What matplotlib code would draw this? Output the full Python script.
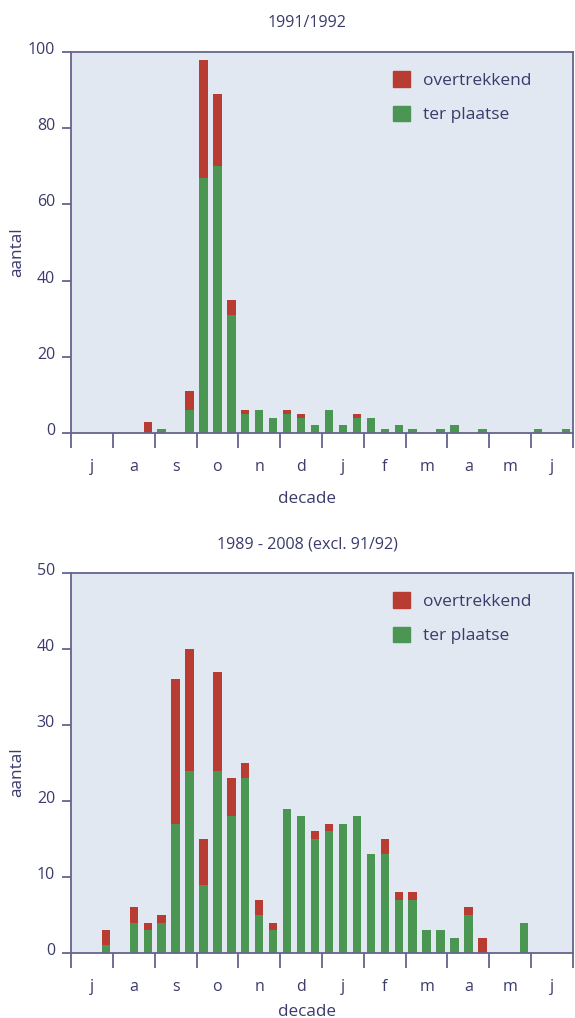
import numpy as np
import matplotlib
matplotlib.use('Agg')
import matplotlib.pyplot as plt
import matplotlib.transforms as mtransforms
from matplotlib.patches import Patch

plt.rcParams['font.family'] = ['Open Sans', 'DejaVu Sans']

# decades from july to june, 3 per month
months = ['j', 'a', 's', 'o', 'n', 'd', 'j', 'f', 'm', 'a', 'm', 'j']

# 1991/1992
top_ter_plaatse = [0, 0, 0, 0, 0, 0, 1, 0, 6, 67, 70, 31, 5, 6, 4, 5, 4, 2,
                   6, 2, 4, 4, 1, 2, 1, 0, 1, 2, 0, 1, 0, 0, 0, 1, 0, 1]
top_overtrekkend = [0, 0, 0, 0, 0, 3, 0, 0, 5, 31, 19, 4, 1, 0, 0, 1, 1, 0,
                    0, 0, 1, 0, 0, 0, 0, 0, 0, 0, 0, 0, 0, 0, 0, 0, 0, 0]

# 1989 - 2008 (excl. 91/92)
bot_ter_plaatse = [0, 0, 1, 0, 4, 3, 4, 17, 24, 9, 24, 18, 23, 5, 3, 19, 18, 15,
                   16, 17, 18, 13, 13, 7, 7, 3, 3, 2, 5, 0, 0, 0, 4, 0, 0, 0]
bot_overtrekkend = [0, 0, 2, 0, 2, 1, 1, 19, 16, 6, 13, 5, 2, 2, 1, 0, 0, 1,
                    1, 0, 0, 0, 2, 1, 1, 0, 0, 0, 1, 2, 0, 0, 0, 0, 0, 0]

RED = '#b83c32'
GREEN = '#4b9652'
BG = '#e1e8f2'
AXC = '#65658f'
TXT = '#3b3b6b'


def draw_panel(ax, ter, over, ymax, step, title, xlab_y):
    x = np.arange(len(ter)) + 0.5
    ax.set_facecolor(BG)
    ax.bar(x, ter, width=0.6, color=GREEN, linewidth=0)
    ax.bar(x, over, width=0.6, bottom=ter, color=RED, linewidth=0)
    ax.set_xlim(0, 36)
    ax.set_ylim(0, ymax)
    for s in ax.spines.values():
        s.set_color(AXC)
        s.set_linewidth(1.3)

    ax.set_xticks(np.arange(0, 37, 3))
    ax.set_xticklabels([])
    ax.set_xticks(np.arange(1.5, 36, 3), minor=True)
    ax.set_xticklabels(months, minor=True)
    ax.tick_params(axis='x', which='major', length=11, width=1.3, color=AXC)
    ax.tick_params(axis='x', which='minor', length=0, pad=19, labelsize=11.5, labelcolor=TXT)

    ax.set_yticks(np.arange(0, ymax + 1, step))
    ax.tick_params(axis='y', length=6.5, width=1.3, color=AXC, pad=5, labelsize=11.5, labelcolor=TXT)
    off = mtransforms.ScaledTranslation(0, 4 / 100, ax.figure.dpi_scale_trans)
    for lab in ax.get_yticklabels():
        lab.set_transform(lab.get_transform() + off)

    ax.set_xlabel('decade', fontsize=12.3, color=TXT, va='center')
    ax.xaxis.set_label_coords(0.47, xlab_y)
    ax.set_ylabel('aantal', fontsize=12.3, color=TXT, va='center')
    ax.yaxis.set_label_coords(-0.108, 0.475)

    handles = [Patch(color=RED, label='overtrekkend'), Patch(color=GREEN, label='ter plaatse')]
    leg = ax.legend(handles=handles, loc='upper left', bbox_to_anchor=(0.611, 0.99),
                    frameon=False, handlelength=0.98, handleheight=0.98,
                    labelspacing=0.95, handletextpad=0.7, fontsize=12.5)
    for t in leg.get_texts():
        t.set_color(TXT)
    ax.text(0.47, 1.075, title, transform=ax.transAxes, ha='center', va='center',
            fontsize=11.6, color=TXT)


fig = plt.figure(figsize=(5.75, 10.18), dpi=100)
ax1 = fig.add_axes([71 / 575, 1 - 433 / 1018, 502 / 575, 381 / 1018])
ax2 = fig.add_axes([71 / 575, 1 - 953 / 1018, 502 / 575, 380 / 1018])

draw_panel(ax1, top_ter_plaatse, top_overtrekkend, 100, 20, '1991/1992', -0.173)
draw_panel(ax2, bot_ter_plaatse, bot_overtrekkend, 50, 10, '1989 - 2008 (excl. 91/92)', -0.155)

fig.savefig('out.png', dpi=100)
